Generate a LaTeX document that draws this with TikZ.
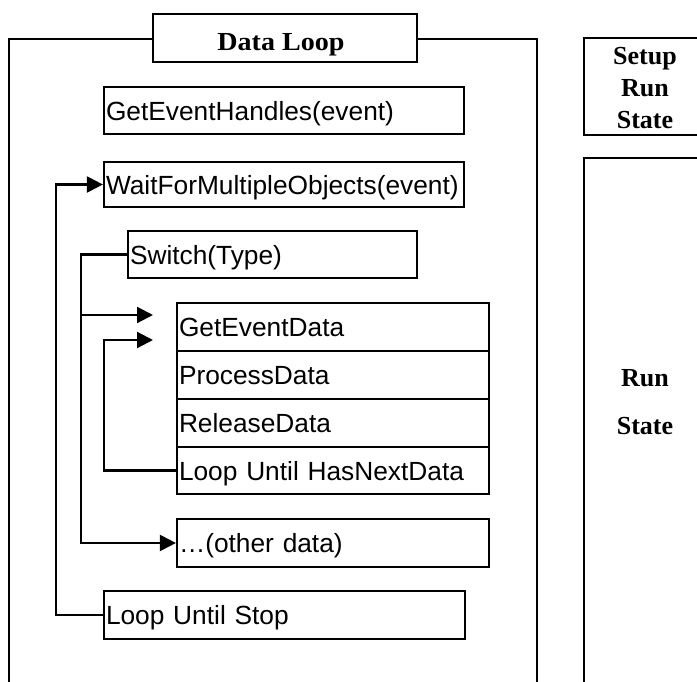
\documentclass[tikz,border=0pt]{standalone}
\usepackage{fontspec}
\setmainfont{Liberation Serif}
\newfontfamily\sansf{Liberation Sans}
\usetikzlibrary{arrows.meta}
\begin{document}
\begin{tikzpicture}[x=1pt,y=-1pt,
  lw/.style={line width=2.2pt},
  box/.style={draw, lw, rectangle, inner xsep=2pt, inner ysep=0pt,
    text height=19pt, text depth=0pt, align=left,
    font=\sansf\fontsize{26.3}{30}\selectfont},
  frame/.style={draw, lw},
  conn/.style={lw},
  arr/.style={lw, -{Triangle[length=16pt,width=16pt]}},
  lbl/.style={font=\bfseries\fontsize{26}{30}\selectfont, inner sep=0pt, anchor=base}]
\useasboundingbox (0,0) rectangle (697,681);
% Data Loop frame
\node[draw, lw, minimum width=264pt, minimum height=48pt, inner sep=0pt] (title) at (285,38) {};
\node[lbl] (titletxt) at (281,50) {\scalebox{1.08}[1]{Data Loop}};
\draw[frame] (title.west |- 0,39) -- (9,39) -- (9,690);
\draw[frame] (title.east |- 0,39) -- (537,39) -- (537,690);
% boxes
\node[box, text width=356pt, minimum height=47pt] (geh) at (284,110.5) {GetEventHandles(event)};
\node[box, text width=356pt, minimum height=45pt] (wfmo) at (284,184.5) {WaitForMultipleObjects(event)};
\node[box, text width=285pt, minimum height=47pt] (sw) at (272.5,254.5) {Switch(Type)};
\node[box, text width=308pt, minimum height=48pt] (ged) at (333,327) {GetEventData};
\node[box, text width=308pt, minimum height=48pt] (pd) at (333,375) {ProcessData};
\node[box, text width=308pt, minimum height=48pt] (rd) at (333,423) {ReleaseData};
\node[box, text width=308pt, minimum height=47pt] (lhn) at (333,470.5) {Loop Until HasNextData};
\node[box, text width=308pt, minimum height=48pt] (oth) at (333,543) {\dots(other data)};
\node[box, text width=357pt, minimum height=48pt] (lus) at (284.5,615) {Loop Until Stop};
% connectors
\coordinate (swj) at (81,315);
\coordinate (t1) at (153,315);
\coordinate (t2) at (153,340);
\draw[arr] (lus.west) -- ++(-47,0) |- (wfmo.west);
\draw[conn] (sw.west) -| (swj);
\draw[arr] (swj) -- (t1);
\draw[arr] (swj) |- (oth.west);
\draw[arr] (lhn.west) -- ++(-72,0) |- (t2);
% right side
\draw[frame] (705,38) -- (584,38) -- (584,135) -- (705,135);
\node[lbl] (s1) at (645,64) {Setup};
\node[lbl] (s2) at (645,96) {Run};
\node[lbl] (s3) at (645,128) {State};
\draw[frame] (705,158) -- (584,158) -- (584,690);
\node[lbl] (r1) at (645,386) {Run};
\node[lbl] (r2) at (645,434) {State};
\end{tikzpicture}
\end{document}
